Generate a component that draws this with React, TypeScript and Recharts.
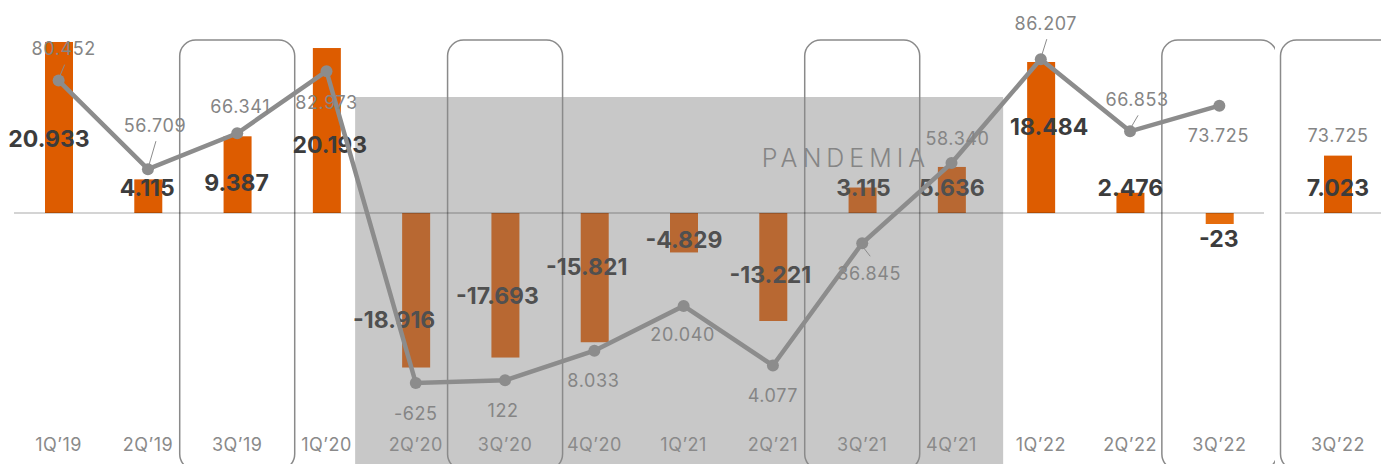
import React from 'react';
import { ComposedChart, Bar, Line, XAxis, YAxis, ReferenceArea, ReferenceLine, Cell } from 'recharts';

// ---------- data ----------
const quarters = ["1Q’19", "2Q’19", "3Q’19", "1Q’20", "2Q’20", "3Q’20", "4Q’20", "1Q’21", "2Q’21", "3Q’21", "4Q’21", "1Q’22", "2Q’22", "3Q’22"];
const ebitda = [20933, 4115, 9387, 20193, -18916, -17693, -15821, -4829, -13221, 3115, 5636, 18484, 2476, -23];
const margin = [80452, 56709, 66341, 82973, -625, 122, 8033, 20040, 4077, 36845, 58340, 86207, 66853, 73725];

const lastQuarter = ["3Q’22"];
const lastEbitda = [7023];
const lastMargin = [73725];

const highlightedQuarters = ["3Q’19", "3Q’20", "3Q’21", "3Q’22"];
const pandemicQuarters = ["2Q’20", "3Q’20", "4Q’20", "1Q’21", "2Q’21", "3Q’21", "4Q’21"];
const pandemicLabel = 'PANDEMIA';

// label nudges (annotation placement only)
const barLabelNudge = [[-10, 12], [-1, -8], [-1, 8], [3, 14], [-22, 30], [-8, 11], [-8, -11], [0, 7], [-3, 8], [1, -12], [0, -2], [8, -10], [0, -15], [-1, 21]];
const lastBarLabelNudge = [[0, 4]];
const lineLabelOffset = [[5, -32], [7, -44], [3, -27], [0, 31], [0, 30], [-2, 30], [-1, 30], [-1, 29], [0, 30], [7, 30], [6, -25], [5, -36], [7, -32], [-1, 30]];
const lastLineLabelOffset = [[0, 30]];
const leaderIdx = [0, 1, 9, 11, 12];

const mainData = quarters.map((q, i) => ({ q, ebitda: ebitda[i], margin: margin[i] }));
const lastData = lastQuarter.map((q, i) => ({ q, ebitda: lastEbitda[i], margin: lastMargin[i] }));

// ---------- style ----------
const FONT = 'Inter, "Noto Sans", sans-serif';
const BAR_DOMAIN: [number, number] = [-25340, 22400];
const LINE_DOMAIN: [number, number] = [-10540, 94020];
const H = 472;
const X_AXIS_H = 52;
const ORANGE = '#dd5c00';
const ORANGE_P = '#b86832';
const ORANGE_LAST = '#e56c0c';
const GRAY_LINE = '#8c8c8c';
const BOX_W = 115;

function fmt(n: number) {
  const s = Math.abs(Math.round(n)).toString().replace(/\B(?=(\d{3})+(?!\d))/g, '.');
  return (n < 0 ? '-' : '') + s;
}

const makeBarShape = (nudges: number[][]) => (props: any) => {
  const { x, y, width, height, fill, index, payload } = props;
  const [dx, dy] = nudges[index] || [0, 0];
  const cx = x + width / 2;
  const cy = y + height / 2;
  const inP = pandemicQuarters.includes(payload.q);
  return (
    <g>
      <rect x={x} y={Math.min(y, y + height)} width={width} height={Math.abs(height)} fill={fill} />
      <text x={cx + dx} y={cy + dy} textAnchor="middle" dominantBaseline="central" fontFamily={FONT} fontWeight={700} fontSize={23} fill={inP ? '#505050' : '#3c3c3c'}>
        {fmt(payload.ebitda)}
      </text>
    </g>
  );
};

const makeDot = (offsets: number[][], leaders: number[], showDot: boolean) => (props: any) => {
  const { cx, cy, index, payload } = props;
  if (cx == null || cy == null) return <g key={`d${index}`} />;
  const [dx, dy] = offsets[index] || [0, 30];
  const up = dy < 0;
  const hasLeader = leaders.includes(index);
  return (
    <g key={`d${index}`}>
      {showDot && <circle cx={cx} cy={cy} r={6} fill={GRAY_LINE} />}
      {hasLeader && (
        <line x1={cx + 1} y1={cy + (up ? -4 : 4)} x2={cx + dx + 1} y2={cy + dy + (up ? 16 : -17)} stroke={GRAY_LINE} strokeWidth={1} />
      )}
      <text x={cx + dx} y={cy + dy} textAnchor="middle" dominantBaseline="central" fontFamily={FONT} fontWeight={400} fontSize={18} letterSpacing={0.6} fill="#858585">
        {fmt(payload.margin)}
      </text>
    </g>
  );
};

const pandemicShape = (props: any) => {
  const { x, y, width, height } = props;
  return (
    <g>
      <rect x={x - 16} y={y} width={width + 23} height={height} fill="#c8c8c8" />
      <text x={x + width - 66} y={y + 61} textAnchor="end" dominantBaseline="central" fontFamily={FONT} fontWeight={300} fontSize={25} letterSpacing={5} fill="#858585">
        {pandemicLabel}
      </text>
    </g>
  );
};

const boxShape = (props: any) => {
  const { x, y, width, height } = props;
  const cx = x + width / 2;
  return <rect x={cx - BOX_W / 2} y={y} width={BOX_W} height={height} rx={16} ry={16} fill="none" stroke="#8a8a8a" strokeWidth={1.5} />;
};

const tickStyle = { fill: '#8a8a8a', fontSize: 18, fontFamily: FONT, letterSpacing: 0.5 };

export default function App() {
  return (
    <div style={{ position: 'relative', width: 1389, height: H, fontFamily: FONT, margin: -8, overflow: 'hidden' }}>
      <div style={{ position: 'absolute', left: 0, top: 0 }}>
        <ComposedChart width={1275} height={H} data={mainData} margin={{ top: 30, right: 11, bottom: 0, left: 14 }}>
          <XAxis dataKey="q" axisLine={false} tickLine={false} tickSize={0} tickMargin={18} height={X_AXIS_H} interval={0} tick={tickStyle} />
          <YAxis yAxisId="bar" hide domain={BAR_DOMAIN} />
          <YAxis yAxisId="line" hide domain={LINE_DOMAIN} />
          <ReferenceArea yAxisId="bar" x1={pandemicQuarters[0]} x2={pandemicQuarters[pandemicQuarters.length - 1]} y1={-30845} y2={14198} ifOverflow="visible" shape={pandemicShape} />
          <ReferenceLine yAxisId="bar" y={0} stroke="rgba(0,0,0,0.17)" strokeWidth={2} />
          {highlightedQuarters.map((q) => (
            <ReferenceArea key={q} yAxisId="bar" x1={q} x2={q} y1={-31457} y2={21175} ifOverflow="visible" shape={boxShape} />
          ))}
          <Bar yAxisId="bar" dataKey="ebitda" barSize={28} minPointSize={11} isAnimationActive={false} shape={makeBarShape(barLabelNudge)}>
            {mainData.map((d, i) => (
              <Cell key={i} fill={pandemicQuarters.includes(d.q) ? ORANGE_P : i === mainData.length - 1 ? ORANGE_LAST : ORANGE} />
            ))}
          </Bar>
          <Line yAxisId="line" dataKey="margin" stroke={GRAY_LINE} strokeWidth={4.5} isAnimationActive={false} dot={makeDot(lineLabelOffset, leaderIdx, true)} activeDot={false} />
        </ComposedChart>
      </div>
      <div style={{ position: 'absolute', left: 1275, top: 0 }}>
        <ComposedChart width={116} height={H} data={lastData} margin={{ top: 30, right: 0, bottom: 0, left: 10 }}>
          <XAxis dataKey="q" axisLine={false} tickLine={false} tickSize={0} tickMargin={18} height={X_AXIS_H} interval={0} tick={tickStyle} />
          <YAxis yAxisId="bar" hide domain={BAR_DOMAIN} />
          <YAxis yAxisId="line" hide domain={LINE_DOMAIN} />
          <ReferenceLine yAxisId="bar" y={0} stroke="rgba(0,0,0,0.17)" strokeWidth={2} />
          <ReferenceArea yAxisId="bar" x1={lastQuarter[0]} x2={lastQuarter[0]} y1={-31457} y2={21175} ifOverflow="visible" shape={boxShape} />
          <Bar yAxisId="bar" dataKey="ebitda" barSize={28} minPointSize={11} isAnimationActive={false} shape={makeBarShape(lastBarLabelNudge)}>
            {lastData.map((d, i) => (
              <Cell key={i} fill={ORANGE} />
            ))}
          </Bar>
          <Line yAxisId="line" dataKey="margin" stroke="none" isAnimationActive={false} dot={makeDot(lastLineLabelOffset, [], false)} activeDot={false} />
        </ComposedChart>
      </div>
    </div>
  );
}
